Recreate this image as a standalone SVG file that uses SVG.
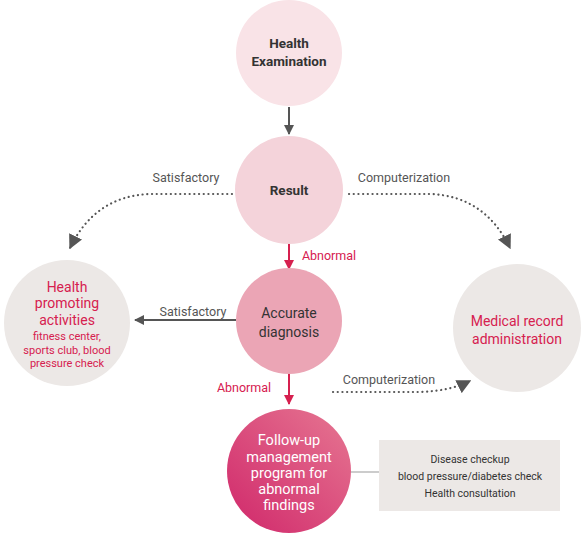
<svg xmlns="http://www.w3.org/2000/svg" width="585" height="536" viewBox="0 0 585 536">
<style>
text{font-family:Roboto,"Liberation Sans",sans-serif;text-anchor:middle}
.dk{fill:#333;font-size:13.5px;font-weight:bold}
.lbl{fill:#555;font-size:12.5px}
.red{fill:#d6204f;font-size:12.5px}
.rtx{fill:#d6204f;font-size:14px}
.rsm{fill:#d6204f;font-size:11px}
.wt{fill:#fff;font-size:14.5px}
.bx{fill:#333;font-size:10.5px}
.dot{fill:none;stroke:#555;stroke-width:2.2;stroke-dasharray:0.1 4.6;stroke-linecap:round}
.sol{stroke:#555;stroke-width:2;fill:none}
.rl{stroke:#d6204f;stroke-width:2;fill:none}
</style>
<defs>
<marker id="ag" viewBox="0 0 10 10" refX="9" refY="5" markerWidth="5" markerHeight="5" orient="auto"><path d="M0,0L10,5L0,10z" fill="#555"/></marker>
<marker id="ar" viewBox="0 0 10 10" refX="9" refY="5" markerWidth="5" markerHeight="5" orient="auto"><path d="M0,0L10,5L0,10z" fill="#d6204f"/></marker>
<marker id="ad" viewBox="0 0 10 10" refX="9" refY="5" markerWidth="6.5" markerHeight="6.5" orient="auto" markerUnits="strokeWidth"><path d="M0,0L10,5L0,10z" fill="#555"/></marker>
<linearGradient id="fg" x1="0" y1="1" x2="1" y2="0"><stop offset="0" stop-color="#d0276a"/><stop offset="1" stop-color="#e67792"/></linearGradient>
</defs>
<g id="connectors">
<line class="sol" x1="289" y1="107" x2="289" y2="134" marker-end="url(#ag)"/>
<path class="dot" d="M232,194 L150,194 Q95,196 70,248" marker-end="url(#ad)"/>
<path class="dot" d="M349,194 L430,194 Q485,196 510,248" marker-end="url(#ad)"/>
<line class="rl" x1="289" y1="244" x2="289" y2="269" marker-end="url(#ar)"/>
<line class="sol" x1="236" y1="320" x2="135" y2="320" marker-end="url(#ag)"/>
<line class="rl" x1="289" y1="374" x2="289" y2="404" marker-end="url(#ar)"/>
<path class="dot" d="M333,392 L420,392 Q450,391 470,381" marker-end="url(#ad)"/>
<line x1="350" y1="472" x2="379" y2="472" stroke="#999" stroke-width="1"/>
<text class="lbl" x="186" y="182">Satisfactory</text>
<text class="lbl" x="404" y="182">Computerization</text>
<text class="red" x="329" y="260">Abnormal</text>
<text class="lbl" x="193" y="316">Satisfactory</text>
<text class="red" x="244" y="392">Abnormal</text>
<text class="lbl" x="389" y="384">Computerization</text>
</g>
<g id="health-examination">
<circle cx="289" cy="53" r="53" fill="#f9e3e7"/>
<text class="dk" x="289" y="48">Health</text>
<text class="dk" x="289" y="66">Examination</text>
</g>
<g id="result">
<circle cx="289" cy="190" r="54" fill="#f4d3da"/>
<text class="dk" x="289" y="195">Result</text>
</g>
<g id="accurate-diagnosis">
<circle cx="289" cy="321" r="53" fill="#eba5b5"/>
<text x="289" y="318" fill="#333" font-size="14">Accurate</text>
<text x="289" y="337" fill="#333" font-size="14">diagnosis</text>
</g>
<g id="health-promoting">
<circle cx="67" cy="323" r="63" fill="#ece8e6"/>
<text class="rtx" x="67" y="292">Health</text>
<text class="rtx" x="67" y="308">promoting</text>
<text class="rtx" x="67" y="325">activities</text>
<text class="rsm" x="67" y="340">fitness center,</text>
<text class="rsm" x="67" y="354">sports club, blood</text>
<text class="rsm" x="67" y="367">pressure check</text>
</g>
<g id="medical-record">
<circle cx="517" cy="328" r="64" fill="#ece8e6"/>
<text class="rtx" x="517" y="326">Medical record</text>
<text class="rtx" x="517" y="344">administration</text>
</g>
<g id="follow-up">
<circle cx="289" cy="471" r="62" fill="url(#fg)"/>
<text class="wt" x="289" y="445">Follow-up</text>
<text class="wt" x="289" y="462">management</text>
<text class="wt" x="289" y="478">program for</text>
<text class="wt" x="289" y="494">abnormal</text>
<text class="wt" x="289" y="510">findings</text>
</g>
<g id="details">
<rect x="379" y="440" width="181" height="71" fill="#ece8e6"/>
<text class="bx" x="470" y="463">Disease checkup</text>
<text class="bx" x="470" y="480">blood pressure/diabetes check</text>
<text class="bx" x="470" y="497">Health consultation</text>
</g>
</svg>
